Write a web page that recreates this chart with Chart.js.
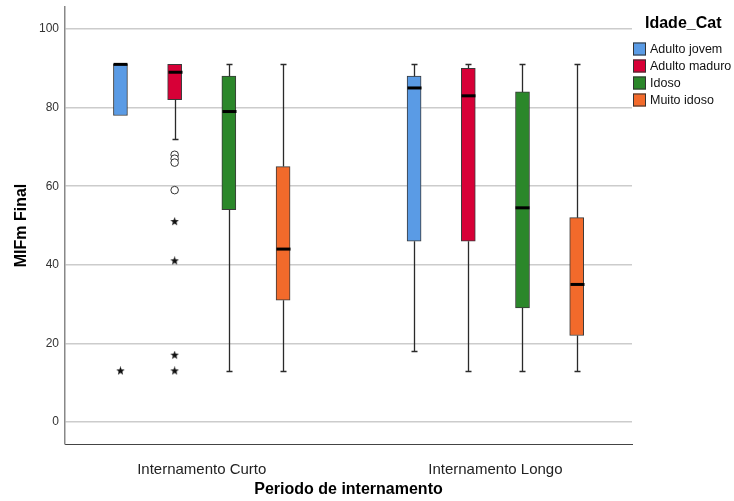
<!DOCTYPE html>
<html>
<head>
<meta charset="utf-8">
<script src="https://cdn.jsdelivr.net/npm/chart.js@4/dist/chart.umd.min.js"></script>
<style>
  html, body { margin: 0; padding: 0; background: #fff; }
  canvas { display: block; }
</style>
</head>
<body>
<canvas id="chart" width="734" height="501"></canvas>
<script>
// Hospital stay period categories and age groups
const categories = ['Internamento Curto', 'Internamento Longo'];
const ageGroups = ['Adulto jovem', 'Adulto maduro', 'Idoso', 'Muito idoso'];
const groupColors = ['#5A9BE5', '#D70037', '#2B872A', '#F26A2B'];
const yTicks = [0, 20, 40, 60, 80, 100];

// Box statistics per age group, one value per stay category
const whiskerLow  = [[78, 18], [72, 13], [13, 13], [13, 13]];
const quart1      = [[78, 46], [82, 46], [54, 29], [31, 22]];
const medians     = [[91, 85], [89, 83], [79, 54.5], [44, 35]];
const quart3      = [[91, 88], [91, 90], [88, 84], [65, 52]];
const whiskerHigh = [[91, 91], [91, 91], [91, 91], [91, 91]];

// Outliers (circles) and extreme values (stars): [categoryIndex, groupIndex, value]
const outliers = [[0, 1, 68], [0, 1, 67], [0, 1, 66], [0, 1, 59]];
const extremes = [[0, 0, 13], [0, 1, 51], [0, 1, 41], [0, 1, 17], [0, 1, 13]];

// Horizontal offset of each age group inside a category (in category units)
const groupStep = 0.1846;
const groupOffset = g => (g - 1.5) * groupStep;
const BOX_W = 14;

// Filled five-point star used as point marker
function makeStar(size) {
  const c = document.createElement('canvas');
  c.width = size; c.height = size;
  const g = c.getContext('2d');
  const cx = size / 2, cy = size / 2, ro = size / 2, ri = ro * 0.42;
  g.beginPath();
  for (let i = 0; i < 10; i++) {
    const r = i % 2 === 0 ? ro : ri;
    const a = -Math.PI / 2 + i * Math.PI / 5;
    g.lineTo(cx + r * Math.cos(a), cy + r * Math.sin(a));
  }
  g.closePath();
  g.fillStyle = '#111';
  g.fill();
  return c;
}
const starImg = makeStar(9);

const boxDatasets = ageGroups.map((name, g) => ({
  type: 'bar',
  label: name,
  data: categories.map((c, i) => ({ x: i + groupOffset(g), y: [quart1[g][i], quart3[g][i]] })),
  backgroundColor: groupColors[g],
  borderColor: '#3a3a3a',
  borderWidth: 1,
  borderSkipped: false,
  grouped: false,
  barThickness: BOX_W,
  order: 2
}));

const outlierDataset = {
  type: 'scatter',
  label: 'outliers',
  data: outliers.map(([c, g, v]) => ({ x: c + groupOffset(g), y: v })),
  pointStyle: 'circle',
  pointRadius: 3.8,
  backgroundColor: '#fff',
  borderColor: '#333',
  borderWidth: 1,
  order: 1
};

const extremeDataset = {
  type: 'scatter',
  label: 'extremes',
  data: extremes.map(([c, g, v]) => ({ x: c + groupOffset(g), y: v })),
  pointStyle: starImg,
  pointRadius: 4.5,
  order: 1
};

// Whiskers and median lines drawn on top of the bars using the chart scales
const boxPlugin = {
  id: 'boxParts',
  afterDatasetsDraw(chart) {
    const { ctx, scales: { x, y } } = chart;
    ctx.save();
    ageGroups.forEach((name, g) => {
      categories.forEach((c, i) => {
        const px = Math.round(x.getPixelForValue(i + groupOffset(g))) + 0.5;
        const yq1 = y.getPixelForValue(quart1[g][i]);
        const yq3 = y.getPixelForValue(quart3[g][i]);
        const ylo = y.getPixelForValue(whiskerLow[g][i]);
        const yhi = y.getPixelForValue(whiskerHigh[g][i]);
        ctx.strokeStyle = '#2a2a2a';
        ctx.lineWidth = 1.3;
        const cap = 3;
        if (whiskerHigh[g][i] > quart3[g][i]) {
          ctx.beginPath();
          ctx.moveTo(px, yq3); ctx.lineTo(px, yhi);
          ctx.moveTo(px - cap, Math.round(yhi) + 0.5); ctx.lineTo(px + cap, Math.round(yhi) + 0.5);
          ctx.stroke();
        }
        if (whiskerLow[g][i] < quart1[g][i]) {
          ctx.beginPath();
          ctx.moveTo(px, yq1); ctx.lineTo(px, ylo);
          ctx.moveTo(px - cap, Math.round(ylo) + 0.5); ctx.lineTo(px + cap, Math.round(ylo) + 0.5);
          ctx.stroke();
        }
        const ym = y.getPixelForValue(medians[g][i]);
        ctx.strokeStyle = '#000';
        ctx.lineWidth = 3;
        ctx.beginPath();
        ctx.moveTo(px - BOX_W / 2, ym); ctx.lineTo(px + BOX_W / 2, ym);
        ctx.stroke();
      });
    });
    ctx.restore();
  },
  afterDraw(chart) {
    // Legend for the age groups
    const { ctx } = chart;
    ctx.save();
    ctx.fillStyle = '#000';
    ctx.font = 'bold 16px "Liberation Sans", Arial, sans-serif';
    ctx.textAlign = 'left';
    ctx.textBaseline = 'middle';
    ctx.fillText('Idade_Cat', 645, 24);
    ctx.font = '12.5px "Liberation Sans", Arial, sans-serif';
    ageGroups.forEach((name, g) => {
      const cy = 49 + g * 17;
      ctx.fillStyle = groupColors[g];
      ctx.fillRect(633, cy - 6.5, 13, 13);
      ctx.strokeStyle = '#333';
      ctx.lineWidth = 1;
      ctx.strokeRect(633.5, cy - 6, 12, 12);
      ctx.fillStyle = '#111';
      ctx.fillText(name, 650, cy + 0.5);
    });
    ctx.restore();
  }
};

new Chart(document.getElementById('chart'), {
  type: 'bar',
  data: { datasets: [...boxDatasets, outlierDataset, extremeDataset] },
  options: {
    responsive: false,
    animation: false,
    devicePixelRatio: 1,
    layout: { padding: { top: 7, right: 102, left: 0, bottom: 0 } },
    plugins: { legend: { display: false }, tooltip: { enabled: false } },
    scales: {
      x: {
        type: 'linear',
        offset: false,
        min: -0.4657,
        max: 1.4652,
        afterBuildTicks: s => { s.ticks = categories.map((c, i) => ({ value: i })); },
        afterFit: s => { s.height = 57; s.paddingLeft = 0; s.paddingRight = 0; },
        grid: { display: false, drawTicks: false, offset: false },
        border: { display: true, color: '#444', width: 1 },
        ticks: {
          callback: v => categories[Math.round(v)] || '',
          font: { family: '"Liberation Sans", Arial, sans-serif', size: 15 },
          color: '#222',
          padding: 17,
          maxRotation: 0,
          autoSkip: false
        },
        title: {
          display: true,
          text: 'Periodo de internamento',
          font: { family: '"Liberation Sans", Arial, sans-serif', size: 16, weight: 'bold' },
          color: '#000',
          padding: { top: 0, bottom: 2 }
        }
      },
      y: {
        type: 'linear',
        min: -5.6,
        max: 105.6,
        afterBuildTicks: s => { s.ticks = yTicks.map(v => ({ value: v })); },
        afterFit: s => { s.width = 65; s.paddingTop = 0; s.paddingBottom = 0; },
        grid: { color: '#cccccc', lineWidth: 1.5, drawTicks: false },
        border: { display: true, color: '#888', width: 1.5 },
        ticks: {
          font: { family: '"Liberation Sans", Arial, sans-serif', size: 12 },
          color: '#333',
          padding: 6
        },
        title: {
          display: true,
          text: 'MIFm Final',
          font: { family: '"Liberation Sans", Arial, sans-serif', size: 16, weight: 'bold' },
          color: '#000',
          padding: { top: 12, bottom: 0 }
        }
      }
    }
  },
  plugins: [boxPlugin]
});
</script>
</body>
</html>
